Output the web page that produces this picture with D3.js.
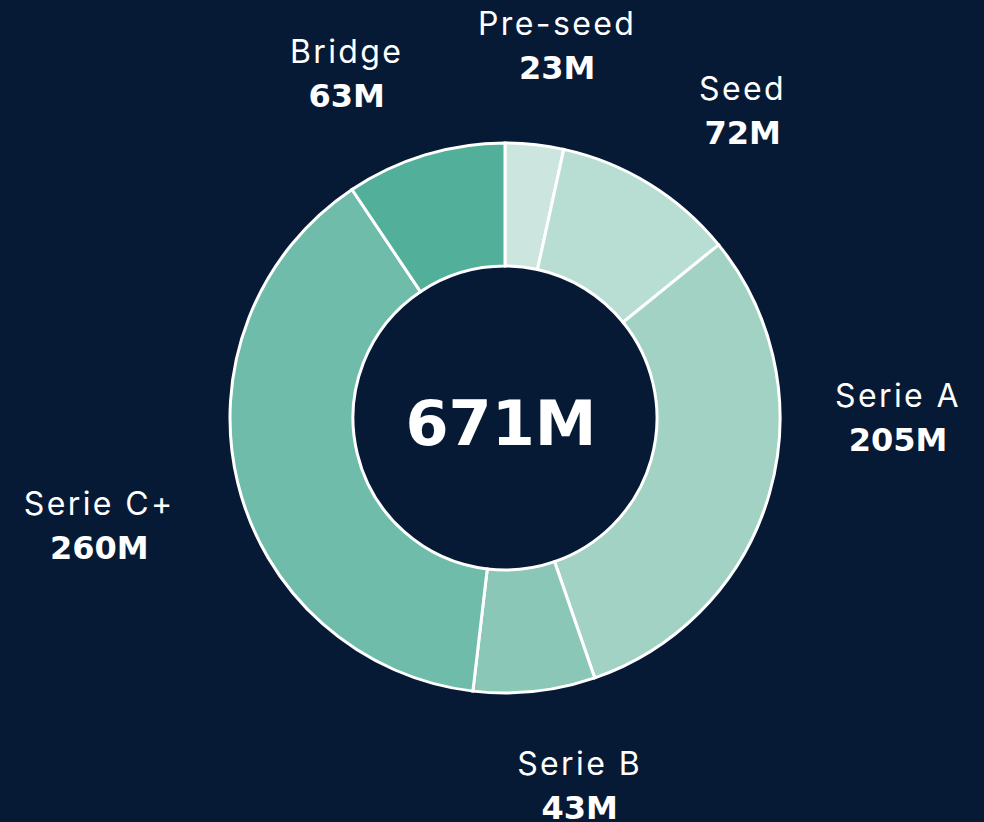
<!DOCTYPE html>
<html>
<head>
<meta charset="utf-8">
<script src="https://cdn.jsdelivr.net/npm/d3@7"></script>
<style>
    html, body { margin: 0; padding: 0; background: #061a36; }
    #chart { width: 984px; height: 822px; }
</style>
</head>
<body>
<div id="chart"></div>
<script>
// Funding per stage (millions); slice sizes add up to the 671M total,
// the printed label for Serie B reads 43M as in the source
var stages = ["Pre-seed", "Seed", "Serie A", "Serie B", "Serie C+", "Bridge"];
var amounts = [23, 72, 205, 48, 260, 63];
var amountLabels = ["23M", "72M", "205M", "43M", "260M", "63M"];
var stageColors = ["#cce6df", "#b8ded3", "#a2d2c3", "#8ac7b6", "#70bcab", "#52b09a"];

function drawDonut(element) {
    var width = 984, height = 822;
    var cx = 505, cy = 418;
    var outer = 275, inner = 152;

    var svg = d3.select(element)
        .append("svg")
        .attr("width", width)
        .attr("height", height)
        .append("g")
        .attr("transform", "translate(" + cx + "," + cy + ")");

    var data = stages.map(function (s, i) {
        return { stage: s, value: amounts[i], label: amountLabels[i] };
    });

    var pie = d3.pie()
        .value(function (d) { return d.value; })
        .sort(null);

    var arc = d3.arc()
        .innerRadius(inner)
        .outerRadius(outer);

    var color = d3.scaleOrdinal().domain(stages).range(stageColors);

    var arcs = pie(data);

    svg.selectAll("path")
        .data(arcs)
        .enter()
        .append("path")
        .attr("d", arc)
        .attr("fill", function (d) { return color(d.data.stage); })
        .attr("stroke", "#ffffff")
        .attr("stroke-width", 3);

    // label placement: nudge (degrees) off the slice mid-angle, and distance from centre
    var labelLayout = {
        "Pre-seed": { nudge: 1.8, r: 376 },
        "Seed": { nudge: 6.1, r: 388 },
        "Serie A": { nudge: -15.9, r: 393 },
        "Serie B": { nudge: -5.3, r: 375 },
        "Serie C+": { nudge: -1.4, r: 420 },
        "Bridge": { nudge: -7.8, r: 379 }
    };

    var labels = svg.selectAll("g.label")
        .data(arcs)
        .enter()
        .append("g")
        .attr("class", "label")
        .attr("transform", function (d) {
            var lay = labelLayout[d.data.stage];
            var a = (d.startAngle + d.endAngle) / 2 + lay.nudge * Math.PI / 180;
            var x = Math.sin(a) * lay.r;
            var y = -Math.cos(a) * lay.r;
            return "translate(" + x + "," + y + ")";
        });

    labels.append("text")
        .attr("text-anchor", "middle")
        .attr("y", -11)
        .attr("fill", "#ffffff")
        .style("font-family", "Inter, 'Noto Sans', sans-serif")
        .style("font-weight", 400)
        .style("font-size", "32px")
        .style("letter-spacing", "2.4px")
        .text(function (d) { return d.data.stage; });

    labels.append("text")
        .attr("text-anchor", "middle")
        .attr("y", 33)
        .attr("fill", "#ffffff")
        .style("font-family", "'DejaVu Sans', sans-serif")
        .style("font-weight", 700)
        .style("font-size", "32px")
        .text(function (d) { return d.data.label; });

    svg.append("text")
        .attr("text-anchor", "middle")
        .attr("x", -4)
        .attr("y", 27)
        .attr("fill", "#ffffff")
        .style("font-family", "'DejaVu Sans', sans-serif")
        .style("font-weight", 700)
        .style("font-size", "62px")
        .text(d3.sum(amounts) + "M");
}

drawDonut("#chart");
</script>
</body>
</html>
